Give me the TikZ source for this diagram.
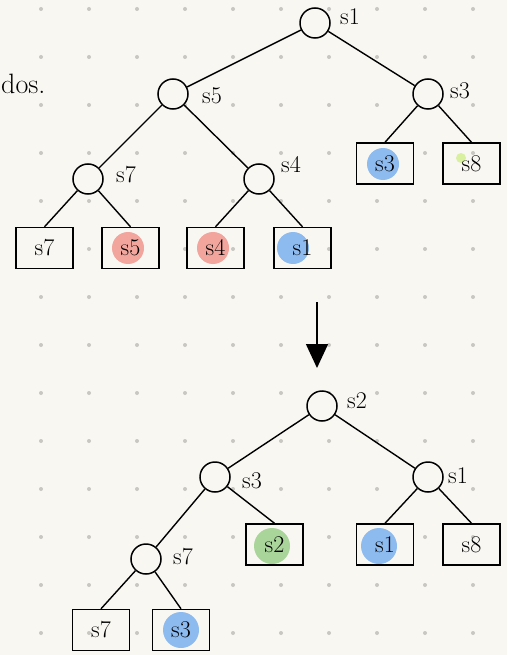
\documentclass[tikz,border=0pt]{standalone}
\usetikzlibrary{arrows.meta}
\definecolor{paper}{HTML}{F9F7F2}
\definecolor{griddot}{HTML}{C9C7C2}
\definecolor{blobred}{HTML}{F2A59C}
\definecolor{blobblue}{HTML}{8DBBEF}
\definecolor{blobgreen}{HTML}{A9D59B}
\definecolor{blobyellow}{HTML}{D8F0A0}
\tikzset{
  inode/.style={circle, draw, line width=1.5pt, fill=paper, minimum size=30pt, inner sep=0pt},
  leaf/.style={rectangle, draw, line width=1.4pt, minimum width=57pt, minimum height=41pt, inner sep=0pt, font=\fontsize{24}{26}\selectfont},
  lbl/.style={font=\fontsize{24}{26}\selectfont, inner sep=0pt},
  edge/.style={line width=1.4pt},
  blob/.style={circle, inner sep=0pt, minimum size=32pt},
}
\begin{document}
\begin{tikzpicture}[x=1pt,y=-1pt]
\fill[paper] (0,0) rectangle (507,655);
\useasboundingbox (0,0) rectangle (507,655);
\foreach \i in {0,...,9}{
  \foreach \j in {0,...,13}{
    \fill[griddot] (41+48*\i, 9+48*\j) circle (2pt);
  }
}
\node[font=\fontsize{28}{30}\selectfont, anchor=west, inner sep=0pt] (word) at (1,84) {dos.};

% colored blobs (top)
\node[blob, fill=blobred] (b1) at (128,248) {};
\node[blob, fill=blobred] (b2) at (213,248) {};
\node[blob, fill=blobblue] (b3) at (293,248) {};
\node[blob, fill=blobblue] (b4) at (383,164) {};
\node[circle, fill=blobyellow, inner sep=0pt, minimum size=10pt] (b5) at (461,158) {};

% top tree
\node[inode] (t1) at (315,23) {};
\node[inode] (t5) at (173,94) {};
\node[inode] (t3) at (428,94) {};
\node[inode] (t7) at (88,179) {};
\node[inode] (t4) at (259,179) {};
\node[lbl] (lt1) at (350,17) {s1};
\node[lbl] (lt5) at (212,96) {s5};
\node[lbl] (lt3) at (460,91) {s3};
\node[lbl] (lt7) at (126,175) {s7};
\node[lbl] (lt4) at (291,165) {s4};

\node[leaf] (ta) at (44.5,248) {s7};
\node[leaf] (tb) at (130.5,248) {s5};
\node[leaf] (tc) at (215.5,248) {s4};
\node[leaf] (td) at (302.5,248) {s1};
\node[leaf] (te) at (385,163.5) {s3};
\node[leaf] (tf) at (471.5,163.5) {s8};

\draw[edge] (t1) -- (t5);
\draw[edge] (t1) -- (t3);
\draw[edge] (t5) -- (t7);
\draw[edge] (t5) -- (t4);
\draw[edge] (t7) -- (ta.north);
\draw[edge] (t7) -- (tb.north);
\draw[edge] (t4) -- (tc.north);
\draw[edge] (t4) -- (td.north);
\draw[edge] (t3) -- (te.north);
\draw[edge] (t3) -- (tf.north);

% arrow
\coordinate (atop) at (317,302);
\coordinate (abot) at (317,368);
\draw[line width=1.5pt, -{Triangle[width=22pt,length=24pt]}] (atop) -- (abot);

% bottom blobs
\node[blob, fill=blobgreen, minimum size=36pt] (c1) at (272,546) {};
\node[blob, fill=blobblue, minimum size=36pt] (c2) at (379,546) {};
\node[blob, fill=blobblue, minimum size=36pt] (c3) at (181,630) {};

% bottom tree
\node[inode] (u2) at (322,406) {};
\node[inode] (u3) at (215,477) {};
\node[inode] (u1) at (428,477) {};
\node[inode] (u7) at (146,559) {};
\node[lbl] (lu2) at (357,401) {s2};
\node[lbl] (lu3) at (252,481) {s3};
\node[lbl] (lu1) at (458,476) {s1};
\node[lbl] (lu7) at (183,557) {s7};

\node[leaf] (ua) at (274.5,544.5) {s2};
\node[leaf] (ub) at (385,544.5) {s1};
\node[leaf] (uc) at (471.5,544.5) {s8};
\node[leaf] (ud) at (101,630) {s7};
\node[leaf] (ue) at (181,630) {s3};

\draw[edge] (u2) -- (u3);
\draw[edge] (u2) -- (u1);
\draw[edge] (u3) -- (u7);
\draw[edge] (u3) -- (ua.north);
\draw[edge] (u1) -- (ub.north);
\draw[edge] (u1) -- (uc.north);
\draw[edge] (u7) -- (ud.north);
\draw[edge] (u7) -- (ue.north);
\end{tikzpicture}
\end{document}
